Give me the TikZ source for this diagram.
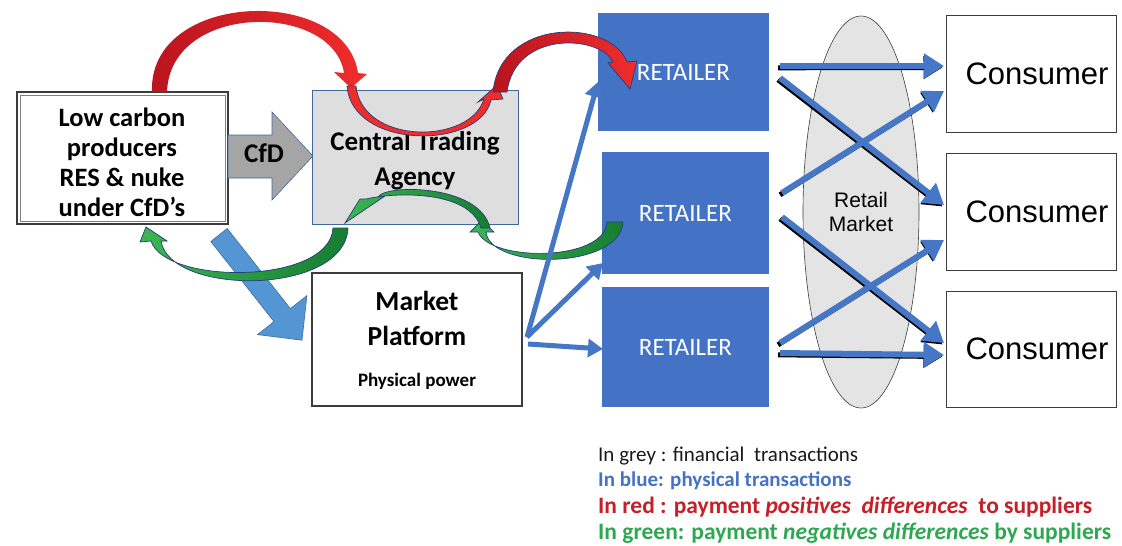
\documentclass[tikz,border=0pt]{standalone}
\usepackage{fontspec}
\setmainfont{Carlito}
\newfontfamily\arialf{Liberation Sans}
\usetikzlibrary{arrows.meta,shapes.geometric,calc}
\definecolor{retblue}{RGB}{68,114,196}
\definecolor{arrblue}{RGB}{70,118,198}
\definecolor{blockblue}{RGB}{84,150,212}
\definecolor{ctagray}{RGB}{222,222,222}
\definecolor{cfdgray}{RGB}{165,165,165}
\definecolor{edgeblue}{RGB}{65,105,160}
\definecolor{ellgray}{RGB}{228,228,228}
\definecolor{redA}{RGB}{185,20,30}
\definecolor{redB}{RGB}{240,45,45}
\definecolor{greenA}{RGB}{22,125,50}
\definecolor{greenB}{RGB}{60,182,82}
\definecolor{ribedge}{RGB}{40,60,120}
\definecolor{legred}{RGB}{200,30,40}
\definecolor{leggreen}{RGB}{45,168,80}
\definecolor{legblue}{RGB}{68,114,196}
\definecolor{darkline}{RGB}{60,60,60}
\begin{document}
\begin{tikzpicture}[x=1pt,y=-1pt,
  box/.style={draw=darkline, line width=1.2pt, fill=white, inner sep=0pt, outer sep=0pt},
  retbox/.style={fill=retblue, inner sep=0pt, outer sep=0pt, text=white, font=\fontsize{25}{28}\selectfont},
  consbox/.style={box, line width=1pt, minimum width=170pt, font=\arialf\fontsize{31}{34}\selectfont},
  rarrow/.style={draw=arrblue, line width=6pt, -{Triangle[length=20pt,width=24pt]}},
  rshadow/.style={draw=black, line width=5pt, -{Triangle[length=19pt,width=22pt]}},
  larrow/.style={draw=arrblue, line width=5pt, -{Triangle[length=15pt,width=18pt]}},
  redrib/.style={left color=redA, right color=redB},
  greenrib/.style={left color=greenB, right color=greenA, draw=ribedge, line width=0.7pt},
  legend/.style={anchor=base west, inner sep=0pt}
]
\useasboundingbox (0,0) rectangle (1122,546);

% ---------- producers ----------
\node[box, line width=1.6pt, minimum width=211pt, minimum height=132pt] (prod) at (122.5,158) {};
\draw[gray, line width=0.6pt] ($(prod.north west)+(3,3)$) rectangle ($(prod.south east)+(-3,-3)$);
\node[align=center, font=\bfseries\fontsize{26.5}{30}\selectfont] (prodtext) at (122,162)
      {Low carbon\\producers\\RES \& nuke\\under CfD’s};

% ---------- CfD arrow ----------
\draw[fill=cfdgray, draw=edgeblue, line width=0.6pt]
  (228,135) -- (272,135) -- (272,112) -- (313,156) -- (272,200) -- (272,178) -- (228,178) -- cycle;
\node[font=\bfseries\fontsize{27}{30}\selectfont] (cfdlbl) at (264,153) {CfD};

% ---------- Central trading agency ----------
\node[draw=edgeblue, fill=ctagray, line width=0.8pt, inner sep=0pt, outer sep=0pt,
      minimum width=206pt, minimum height=134pt] (cta) at (415,157) {};
\node[align=center, font=\bfseries\fontsize{27}{35}\selectfont] (ctatext) at (415,161) {Central Trading\\Agency};

% ---------- Market platform ----------
\node[box, minimum width=210pt, minimum height=133pt] (mp) at (417,339.5) {};
\node[font=\bfseries\fontsize{27.5}{35}\selectfont, align=center] (mptext) at (417,318) {Market\\Platform};
\node[font=\bfseries\fontsize{19}{22}\selectfont] (mpsub) at (417,381) {Physical power};

% ---------- blue block arrow ----------
\draw[fill=blockblue, draw=edgeblue, line width=0.6pt]
  (227.2,228.5) -- (290.4,308.6) -- (306.9,295.6) -- (302.0,340.2) -- (257.5,334.6)
  -- (274.0,321.6) -- (210.8,241.5) -- cycle;

% ---------- retailers ----------
\node[retbox, minimum width=171pt, minimum height=118pt] (r1) at (683.5,72) {RETAILER};
\node[retbox, minimum width=167pt, minimum height=122pt] (r2) at (685.5,213) {RETAILER};
\node[retbox, minimum width=167pt, minimum height=120pt] (r3) at (685.5,347) {RETAILER};

% ---------- retail market ----------
\node[ellipse, draw=darkline, fill=ellgray, line width=0.6pt, inner sep=0pt,
      minimum width=116pt, minimum height=392pt, align=center,
      font=\arialf\fontsize{21}{24}\selectfont] (mkt) at (861,212) {Retail\\Market};

% ---------- consumers ----------
\node[consbox, minimum height=117pt] (c1) at (1031,73.5) {\hspace*{12pt}Consumer};
\node[consbox, minimum height=117pt] (c2) at (1031,211.5) {\hspace*{12pt}Consumer};
\node[consbox, minimum height=116pt] (c3) at (1031,349) {\hspace*{12pt}Consumer};

% ---------- red ribbons ----------
\path[redrib]
  (152,92) .. controls (148,-10) and (345,-15) .. (358,73) -- (367,74) -- (351,88) -- (334,72)
  -- (344,73) .. controls (333,2) and (170,2) .. (167,92) -- cycle;
\path[fill=redB, draw=ribedge, line width=0.7pt]
  (347,86) .. controls (352,150) and (480,150) .. (491,100) -- (503,99) -- (497,85) -- (478,102)
  -- (484,99) .. controls (470,145) and (362,145) .. (356,86) -- cycle;
\path[redrib, draw=ribedge, line width=0.7pt]
  (493,92) .. controls (500,18) and (610,18) .. (627,62) -- (637,61) -- (630,89) -- (608,63)
  -- (613,62) .. controls (600,35) and (515,30) .. (507,92) -- cycle;

% ---------- green ribbons ----------
\path[greenrib]
  (623,222) .. controls (620,270) and (490,270) .. (486,232) -- (494,232) -- (482,220) -- (470,232)
  -- (478,232) .. controls (490,262) and (605,262) .. (607,222) -- cycle;
\path[greenrib]
  (490,228) .. controls (480,184) and (385,184) .. (378,197) -- (385,196) -- (345,223) -- (360,199)
  -- (366,199) .. controls (395,192) and (470,190) .. (481,228) -- cycle;
\path[greenrib]
  (348,228) .. controls (345,296) and (170,296) .. (161,241) -- (167,241) -- (146,227) -- (140,242)
  -- (151,241) .. controls (165,285) and (330,285) .. (333,228) -- cycle;

% ---------- market platform -> retailers ----------
\coordinate (mpo1) at (527,337);
\coordinate (mpo2) at (528,344);
\coordinate (r1in) at (598,82);
\coordinate (r2in) at (603,263);
\coordinate (r3in) at (603,349);
\draw[larrow] (mpo1) -- (r1in);
\draw[larrow] (mpo1) -- (r2in);
\draw[larrow] (mpo2) -- (r3in);

% ---------- retailers -> consumers ----------
\coordinate (s1) at (780,66);   \coordinate (e1) at (944,66);
\coordinate (s2) at (780,78);   \coordinate (e2) at (944,205);
\coordinate (s3) at (782,193);  \coordinate (e3) at (944,91);
\coordinate (s4) at (782,217);  \coordinate (e4) at (944,343);
\coordinate (s5) at (780,343);  \coordinate (e5) at (944,240);
\coordinate (s6) at (780,353);  \coordinate (e6) at (944,355);
\foreach \i in {1,...,6}{
  \draw[rshadow] ($(s\i)+(-2,1.8)$) -- ($(e\i)+(-1.5,1.5)$);
}
\foreach \i in {1,...,6}{
  \draw[rarrow] (s\i) -- (e\i);
}

% ---------- legend ----------
\node[legend, font=\fontsize{21}{22}\selectfont, text=black!90] (leg1) at (598,461) {In grey : financial\ \ transactions};
\node[legend, font=\bfseries\fontsize{21}{22}\selectfont, text=legblue] (leg2) at (598,486) {In blue: physical transactions};
\node[legend, font=\bfseries\fontsize{23.5}{25}\selectfont, text=legred] (leg3) at (598,513) {In red : payment \textit{positives\ \ differences}\ \ to suppliers};
\node[legend, font=\bfseries\fontsize{23.5}{25}\selectfont, text=leggreen] (leg4) at (598,539) {In green: payment \textit{negatives differences} by suppliers};
\end{tikzpicture}
\end{document}
